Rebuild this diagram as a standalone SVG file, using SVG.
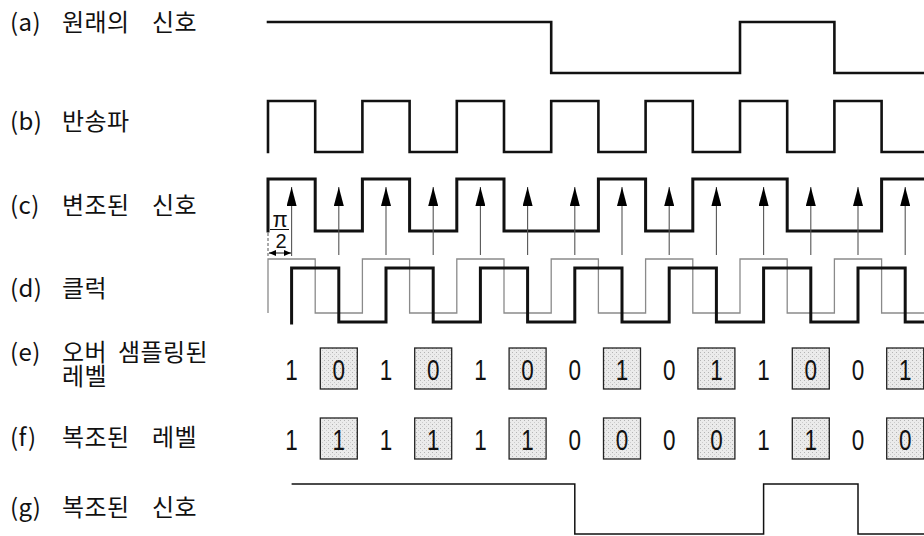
<svg xmlns="http://www.w3.org/2000/svg" width="924" height="536" viewBox="0 0 924 536">
<style>
.lbl{font-family:"Noto Sans CJK KR","Noto Sans",sans-serif;font-size:24px;letter-spacing:0.4px;fill:#111}
.sig{fill:none;stroke:#111;stroke-width:2.6;stroke-linejoin:miter;stroke-linecap:square}
.thick{stroke-width:3}
.gray{fill:none;stroke:#8a8a8a;stroke-width:1.3}
.thin{fill:none;stroke:#111;stroke-width:1.5}
.arr{stroke:#555;stroke-width:1.1;marker-end:url(#ah)}
.num{font-family:"Liberation Sans",Arial,sans-serif;font-size:30px;text-anchor:middle;fill:#111}
.box{fill:url(#stip);stroke:#222;stroke-width:1.3}
.frac{font-family:"Liberation Sans",Arial,sans-serif;text-anchor:middle;fill:#111}
</style>
<defs>
<marker id="ah" viewBox="0 -5 19 10" refX="19" refY="0" markerWidth="19" markerHeight="10" markerUnits="userSpaceOnUse" orient="auto">
<path d="M0,-5 L19,0 L0,5 z" fill="#000"/>
</marker>
<marker id="sa" viewBox="0 -3 7 6" refX="7" refY="0" markerWidth="7" markerHeight="6" markerUnits="userSpaceOnUse" orient="auto-start-reverse">
<path d="M0,-3 L7,0 L0,3 z" fill="#000"/>
</marker>
<pattern id="stip" width="4" height="4" patternUnits="userSpaceOnUse">
<rect width="4" height="4" fill="#ebebeb"/>
<rect x="0" y="0" width="1" height="1" fill="#b4b4b4"/>
<rect x="2" y="2" width="1" height="1" fill="#cccccc"/>
</pattern>
</defs>
<rect width="924" height="536" fill="#fff"/>

<g id="labels">
<text class="lbl" y="31"><tspan x="10">(a) </tspan><tspan x="62">원래의 </tspan><tspan x="152">신호</tspan></text>
<text class="lbl" y="130"><tspan x="10">(b) </tspan><tspan x="62">반송파</tspan></text>
<text class="lbl" y="214"><tspan x="10">(c) </tspan><tspan x="62">변조된 </tspan><tspan x="152">신호</tspan></text>
<text class="lbl" y="297"><tspan x="10">(d) </tspan><tspan x="62">클럭</tspan></text>
<text class="lbl" y="361"><tspan x="10">(e) </tspan><tspan x="62">오버 </tspan><tspan x="118">샘플링된</tspan></text>
<text class="lbl" x="62" y="385">레벨</text>
<text class="lbl" y="446"><tspan x="10">(f) </tspan><tspan x="62">복조된 </tspan><tspan x="152">레벨</tspan></text>
<text class="lbl" y="516"><tspan x="10">(g) </tspan><tspan x="62">복조된 </tspan><tspan x="152">신호</tspan></text>
</g>

<g id="signal-a">
<path class="sig" d="M268,22 H551.2 V73 H740 V22 H834.4 V73 H924"/>
</g>

<g id="signal-b">
<path class="sig" d="M268,152 V101 H315.2 V152 H362.4 V101 H409.6 V152 H456.8 V101 H504 V152 H551.2 V101 H598.4 V152 H645.6 V101 H692.8 V152 H740 V101 H787.2 V152 H834.4 V101 H881.6 V152 H924"/>
</g>

<g id="signal-c">
<path class="sig thick" d="M268,231 V179 H315.2 V231 H362.4 V179 H409.6 V231 H456.8 V179 H504 V231 H598.4 V179 H645.6 V231 H692.8 V179 H787.2 V231 H881.6 V179 H924"/>
</g>

<g id="phase">
<line x1="268" y1="233" x2="268" y2="257" stroke="#555" stroke-width="1" stroke-dasharray="3,2"/>
<text class="frac" x="280" y="227" font-size="22">π</text>
<line x1="270" y1="229.5" x2="289" y2="229.5" stroke="#111" stroke-width="1"/>
<text class="frac" x="281" y="248" font-size="20">2</text>
<line x1="269" y1="253" x2="291" y2="253" stroke="#111" stroke-width="1" marker-start="url(#sa)" marker-end="url(#sa)"/>
</g>

<g id="clock-ref">
<path class="gray" d="M268,313 V259 H315.2 V313 H362.4 V259 H409.6 V313 H456.8 V259 H504 V313 H551.2 V259 H598.4 V313 H645.6 V259 H692.8 V313 H740 V259 H787.2 V313 H834.4 V259 H881.6 V313 H924"/>
</g>

<g id="signal-d">
<path class="sig thick" d="M291.6,323 V268 H338.8 V322 H386 V268 H433.2 V322 H480.4 V268 H527.6 V322 H574.8 V268 H622 V322 H669.2 V268 H716.4 V322 H763.6 V268 H810.8 V322 H858 V268 H905.2 V322 H924"/>
</g>

<g id="connectors">
<line class="arr" x1="291.6" y1="256" x2="291.6" y2="187"/>
<line class="arr" x1="338.8" y1="255" x2="338.8" y2="187"/>
<line class="arr" x1="386" y1="255" x2="386" y2="187"/>
<line class="arr" x1="433.2" y1="255" x2="433.2" y2="187"/>
<line class="arr" x1="480.4" y1="255" x2="480.4" y2="187"/>
<line class="arr" x1="527.6" y1="255" x2="527.6" y2="187"/>
<line class="arr" x1="574.8" y1="255" x2="574.8" y2="187"/>
<line class="arr" x1="622" y1="255" x2="622" y2="187"/>
<line class="arr" x1="669.2" y1="255" x2="669.2" y2="187"/>
<line class="arr" x1="716.4" y1="255" x2="716.4" y2="187"/>
<line class="arr" x1="763.6" y1="255" x2="763.6" y2="187"/>
<line class="arr" x1="810.8" y1="255" x2="810.8" y2="187"/>
<line class="arr" x1="858" y1="255" x2="858" y2="187"/>
<line class="arr" x1="905.2" y1="255" x2="905.2" y2="187"/>
</g>

<g id="row-e">
<rect class="box" x="320.3" y="348" width="37" height="41"/>
<rect class="box" x="414.7" y="348" width="37" height="41"/>
<rect class="box" x="509.1" y="348" width="37" height="41"/>
<rect class="box" x="603.5" y="348" width="37" height="41"/>
<rect class="box" x="697.9" y="348" width="37" height="41"/>
<rect class="box" x="792.3" y="348" width="37" height="41"/>
<rect class="box" x="886.7" y="348" width="37" height="41"/>
<text class="num" x="291.6" y="380" textLength="12.5" lengthAdjust="spacingAndGlyphs">1</text>
<text class="num" x="338.8" y="380" textLength="12.5" lengthAdjust="spacingAndGlyphs">0</text>
<text class="num" x="386" y="380" textLength="12.5" lengthAdjust="spacingAndGlyphs">1</text>
<text class="num" x="433.2" y="380" textLength="12.5" lengthAdjust="spacingAndGlyphs">0</text>
<text class="num" x="480.4" y="380" textLength="12.5" lengthAdjust="spacingAndGlyphs">1</text>
<text class="num" x="527.6" y="380" textLength="12.5" lengthAdjust="spacingAndGlyphs">0</text>
<text class="num" x="574.8" y="380" textLength="12.5" lengthAdjust="spacingAndGlyphs">0</text>
<text class="num" x="622" y="380" textLength="12.5" lengthAdjust="spacingAndGlyphs">1</text>
<text class="num" x="669.2" y="380" textLength="12.5" lengthAdjust="spacingAndGlyphs">0</text>
<text class="num" x="716.4" y="380" textLength="12.5" lengthAdjust="spacingAndGlyphs">1</text>
<text class="num" x="763.6" y="380" textLength="12.5" lengthAdjust="spacingAndGlyphs">1</text>
<text class="num" x="810.8" y="380" textLength="12.5" lengthAdjust="spacingAndGlyphs">0</text>
<text class="num" x="858" y="380" textLength="12.5" lengthAdjust="spacingAndGlyphs">0</text>
<text class="num" x="905.2" y="380" textLength="12.5" lengthAdjust="spacingAndGlyphs">1</text>
</g>

<g id="row-f">
<rect class="box" x="320.3" y="418" width="37" height="41"/>
<rect class="box" x="414.7" y="418" width="37" height="41"/>
<rect class="box" x="509.1" y="418" width="37" height="41"/>
<rect class="box" x="603.5" y="418" width="37" height="41"/>
<rect class="box" x="697.9" y="418" width="37" height="41"/>
<rect class="box" x="792.3" y="418" width="37" height="41"/>
<rect class="box" x="886.7" y="418" width="37" height="41"/>
<text class="num" x="291.6" y="450" textLength="12.5" lengthAdjust="spacingAndGlyphs">1</text>
<text class="num" x="338.8" y="450" textLength="12.5" lengthAdjust="spacingAndGlyphs">1</text>
<text class="num" x="386" y="450" textLength="12.5" lengthAdjust="spacingAndGlyphs">1</text>
<text class="num" x="433.2" y="450" textLength="12.5" lengthAdjust="spacingAndGlyphs">1</text>
<text class="num" x="480.4" y="450" textLength="12.5" lengthAdjust="spacingAndGlyphs">1</text>
<text class="num" x="527.6" y="450" textLength="12.5" lengthAdjust="spacingAndGlyphs">1</text>
<text class="num" x="574.8" y="450" textLength="12.5" lengthAdjust="spacingAndGlyphs">0</text>
<text class="num" x="622" y="450" textLength="12.5" lengthAdjust="spacingAndGlyphs">0</text>
<text class="num" x="669.2" y="450" textLength="12.5" lengthAdjust="spacingAndGlyphs">0</text>
<text class="num" x="716.4" y="450" textLength="12.5" lengthAdjust="spacingAndGlyphs">0</text>
<text class="num" x="763.6" y="450" textLength="12.5" lengthAdjust="spacingAndGlyphs">1</text>
<text class="num" x="810.8" y="450" textLength="12.5" lengthAdjust="spacingAndGlyphs">1</text>
<text class="num" x="858" y="450" textLength="12.5" lengthAdjust="spacingAndGlyphs">0</text>
<text class="num" x="905.2" y="450" textLength="12.5" lengthAdjust="spacingAndGlyphs">0</text>
</g>

<g id="signal-g">
<path class="thin" d="M291.6,484 H574.8 V534 H763.6 V484 H858 V534 H924"/>
</g>
</svg>
